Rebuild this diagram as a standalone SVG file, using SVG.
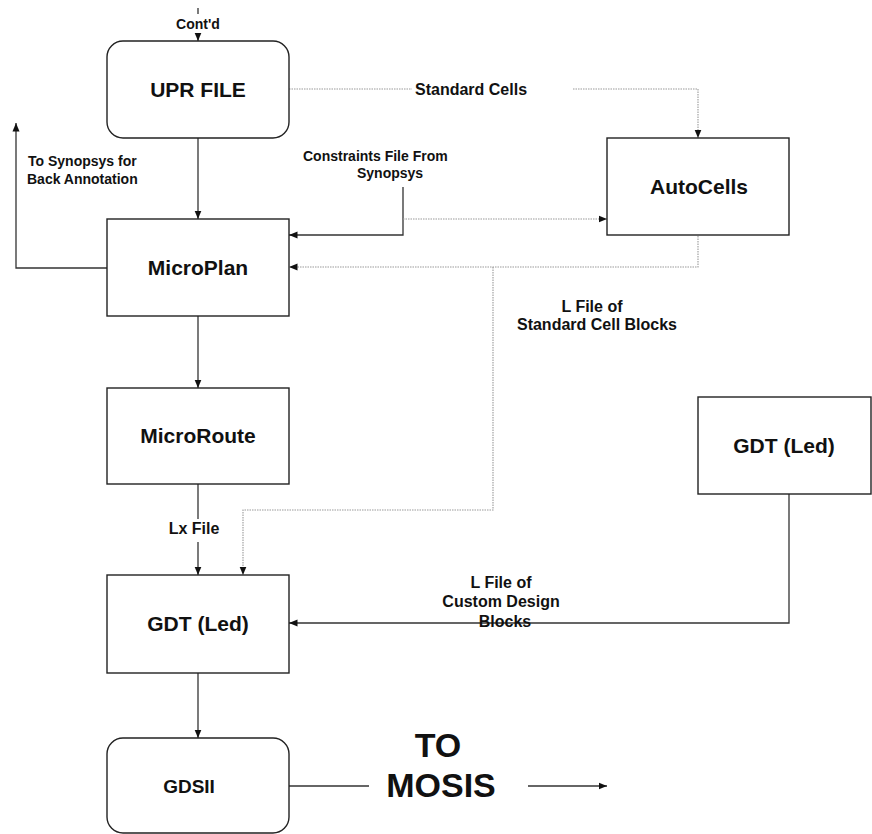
<svg xmlns="http://www.w3.org/2000/svg" width="872" height="834" viewBox="0 0 872 834">
  <defs>
    <marker id="arrow" markerWidth="9" markerHeight="8" refX="8.5" refY="4" orient="auto" markerUnits="userSpaceOnUse">
      <path d="M0,0.5 L8.5,4 L0,7.5 z" fill="#111"/>
    </marker>
  </defs>
  <style>
    .box { fill: #fff; stroke: #222; stroke-width: 1.4; }
    .title { font-family: "Liberation Sans", Arial, sans-serif; font-weight: bold; font-size: 21px; fill: #111; text-anchor: middle; }
    .lbl { font-family: "Liberation Sans", Arial, sans-serif; font-weight: bold; font-size: 14px; fill: #111; }
    .lbl16 { font-family: "Liberation Sans", Arial, sans-serif; font-weight: bold; font-size: 16px; fill: #111; }
    .big { font-family: "Liberation Sans", Arial, sans-serif; font-weight: bold; font-size: 34px; fill: #111; text-anchor: middle; }
    .solid { fill: none; stroke: #333; stroke-width: 1.3; }
    .dot { fill: none; stroke: #999; stroke-width: 1.1; stroke-dasharray: 1.5 1; }
  </style>
  <rect width="872" height="834" fill="#fff"/>

  <!-- connectors -->
  <g id="connectors">
    <!-- continuation into UPR FILE -->
    <line class="solid" x1="198" y1="8" x2="198" y2="14"/>
    <line class="solid" x1="198" y1="33" x2="198" y2="41" marker-end="url(#arrow)"/>
    <!-- UPR FILE -> MicroPlan -->
    <line class="solid" x1="198" y1="138" x2="198" y2="219" marker-end="url(#arrow)"/>
    <!-- MicroPlan back to Synopsys -->
    <polyline class="solid" points="107,268 16,268 16,123" marker-end="url(#arrow)"/>
    <!-- UPR FILE standard cells -> AutoCells -->
    <line class="dot" x1="289" y1="89" x2="412" y2="89"/>
    <polyline class="dot" points="573,89 698,89 698,138" marker-end="url(#arrow)"/>
    <!-- constraints file -> MicroPlan -->
    <polyline class="solid" points="403,187 403,235 289,235" marker-end="url(#arrow)"/>
    <!-- constraints file -> AutoCells -->
    <line class="dot" x1="403" y1="219" x2="607" y2="219" marker-end="url(#arrow)"/>
    <!-- AutoCells L file -> MicroPlan -->
    <polyline class="dot" points="698,236 698,267 289,267" marker-end="url(#arrow)"/>
    <!-- AutoCells L file -> GDT (Led) -->
    <polyline class="dot" points="493,267 493,510 243,510 243,575" marker-end="url(#arrow)"/>
    <!-- MicroPlan -> MicroRoute -->
    <line class="solid" x1="198" y1="316" x2="198" y2="388" marker-end="url(#arrow)"/>
    <!-- MicroRoute -> GDT (Lx File) -->
    <line class="solid" x1="198" y1="484" x2="198" y2="519"/>
    <line class="solid" x1="198" y1="542" x2="198" y2="575" marker-end="url(#arrow)"/>
    <!-- custom GDT -> GDT -->
    <polyline class="solid" points="789,494 789,623 289,623" marker-end="url(#arrow)"/>
    <!-- GDT -> GDSII -->
    <line class="solid" x1="198" y1="673" x2="198" y2="738" marker-end="url(#arrow)"/>
    <!-- GDSII to MOSIS -->
    <line class="solid" x1="289" y1="786" x2="369" y2="786"/>
    <line class="solid" x1="528" y1="786" x2="607" y2="786" marker-end="url(#arrow)"/>
  </g>

  <!-- connector labels -->
  <g id="labels">
    <text class="lbl" x="198" y="29" text-anchor="middle">Cont'd</text>
    <text class="lbl16" x="415" y="95">Standard Cells</text>
    <text class="lbl" x="28" y="166">To Synopsys for</text>
    <text class="lbl" x="27" y="184">Back Annotation</text>
    <text class="lbl" x="303" y="161">Constraints File From</text>
    <text class="lbl" x="357" y="178">Synopsys</text>
    <text class="lbl16" x="592" y="312" text-anchor="middle">L File of</text>
    <text class="lbl16" x="597" y="330" text-anchor="middle">Standard Cell Blocks</text>
    <text class="lbl16" x="194" y="534" text-anchor="middle">Lx File</text>
    <text class="lbl16" x="501" y="588" text-anchor="middle">L File of</text>
    <text class="lbl16" x="501" y="607" text-anchor="middle">Custom Design</text>
    <text class="lbl16" x="505" y="627" text-anchor="middle">Blocks</text>
    <text class="big" x="438" y="757">TO</text>
    <text class="big" x="441" y="797">MOSIS</text>
  </g>

  <!-- nodes -->
  <g id="upr-file">
    <rect class="box" x="107" y="41" width="182" height="97" rx="16" ry="16"/>
    <text class="title" x="198" y="97">UPR FILE</text>
  </g>
  <g id="microplan">
    <rect class="box" x="107" y="219" width="182" height="97"/>
    <text class="title" x="198" y="275">MicroPlan</text>
  </g>
  <g id="autocells">
    <rect class="box" x="607" y="138" width="182" height="97"/>
    <text class="title" x="699" y="194">AutoCells</text>
  </g>
  <g id="microroute">
    <rect class="box" x="107" y="388" width="182" height="96"/>
    <text class="title" x="198" y="443">MicroRoute</text>
  </g>
  <g id="gdt-custom">
    <rect class="box" x="698" y="397" width="173" height="97"/>
    <text class="title" x="784" y="453">GDT (Led)</text>
  </g>
  <g id="gdt-led">
    <rect class="box" x="107" y="575" width="182" height="98"/>
    <text class="title" x="198" y="631">GDT (Led)</text>
  </g>
  <g id="gdsii">
    <rect class="box" x="107" y="738" width="182" height="95" rx="16" ry="16"/>
    <text class="title" x="189" y="793" style="font-size:19px">GDSII</text>
  </g>
</svg>
